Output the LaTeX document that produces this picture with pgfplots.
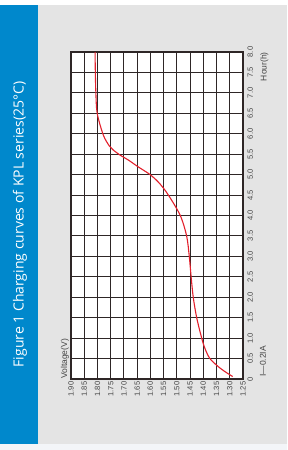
\documentclass[border=0pt]{standalone}
\usepackage{pgfplots}
\pgfplotsset{compat=1.18}
\usepackage{fontspec}
\setmainfont{Liberation Sans}
\newfontfamily\titlefont{Open Sans}
\definecolor{bandblue}{HTML}{0088CC}
\definecolor{bggray}{HTML}{E4E4E4}
\definecolor{stripc}{HTML}{F3F5F8}
\definecolor{gridc}{HTML}{2E2626}
\definecolor{curvered}{HTML}{E3202C}
\definecolor{tickc}{HTML}{454545}
\begin{document}
\begin{tikzpicture}[x=1pt,y=1pt]
\path[use as bounding box] (0,0) rectangle (287,450);
\fill[white] (0,0) rectangle (287,450);
\fill[stripc] (0,0) rectangle (287,6);
\fill[bggray] (38,6) rectangle (287,445);
\fill[bandblue] (0,6) rectangle (38,445);
\node[rotate=90, text=white, inner sep=0pt, font=\titlefont\fontsize{14}{16}\selectfont] at (20,225.5) {Figure 1 Charging curves of KPL series(25°C)};
\begin{axis}[
  at={(71pt,71pt)}, anchor=south west,
  scale only axis, width=172pt, height=327pt,
  x dir=reverse,
  xmin=1.25, xmax=1.90, ymin=0, ymax=8,
  xtick={1.25,1.30,1.35,1.40,1.45,1.50,1.55,1.60,1.65,1.70,1.75,1.80,1.85,1.90},
  xticklabels={1.25,1.30,1.35,1.40,1.45,1.50,1.55,1.60,1.65,1.70,1.75,1.80,1.85,1.90},
  ytick={0,0.5,1,1.5,2,2.5,3,3.5,4,4.5,5,5.5,6,6.5,7,7.5,8},
  yticklabels={0,0.5,1.0,1.5,2.0,2.5,3.0,3.5,4.0,4.5,5.0,5.5,6.0,6.5,7.0,7.5,8.0},
  yticklabel pos=right,
  major tick length=0pt,
  grid=major,
  major grid style={gridc, line width=1.1pt},
  axis line style={gridc, line width=1.2pt},
  axis background/.style={fill=white},
  tick label style={font=\fontsize{7.6}{9}\selectfont, text=tickc},
  xticklabel style={rotate=90, anchor=east, inner sep=2.5pt},
  yticklabel style={rotate=90, anchor=north, inner sep=4.5pt},
]
\addplot[curvered, line width=1.1pt, smooth] coordinates {
(1.289,0.06) (1.318,0.18) (1.343,0.3) (1.375,0.5) (1.394,0.75) (1.406,1.0)
(1.425,1.5) (1.438,2.0) (1.446,2.5) (1.453,3.0) (1.463,3.5) (1.487,4.0)
(1.532,4.5) (1.566,4.79) (1.601,5.0) (1.646,5.19) (1.684,5.36) (1.715,5.48)
(1.740,5.6) (1.755,5.7) (1.778,5.97) (1.801,6.5) (1.806,7.0) (1.808,7.5) (1.809,8.0)
};
\end{axis}
\node[rotate=90, anchor=west, inner sep=0pt, text=tickc, font=\fontsize{8.5}{10}\selectfont] at (65,71) {Voltage(V)};
\node[rotate=90, anchor=east, inner sep=0pt, text=tickc, font=\fontsize{8.5}{10}\selectfont] at (264.5,398) {Hour(h)};
\node[rotate=90, anchor=west, inner sep=0pt, text=tickc, font=\fontsize{8.5}{10}\selectfont] at (263,73) {I—0.2IA};
\end{tikzpicture}
\end{document}
